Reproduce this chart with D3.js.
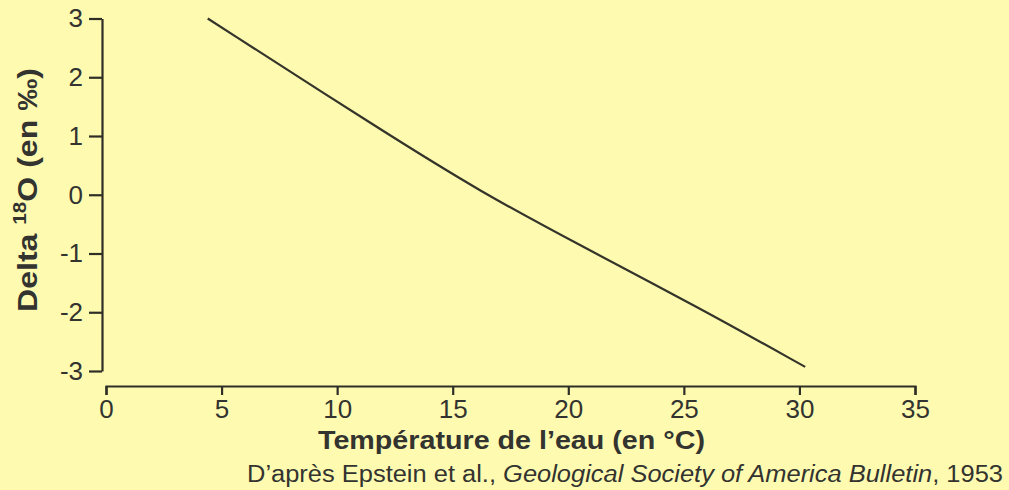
<!DOCTYPE html>
<html><head><meta charset="utf-8">
<script src="https://cdn.jsdelivr.net/npm/d3@7"></script>
<style>
html,body{margin:0;padding:0;background:#fefbb1;}
svg{display:block;}
text{font-family:"Liberation Sans",Arial,Helvetica,sans-serif;fill:#333330;}
</style></head><body>
<svg id="chart" width="1009" height="490"></svg>
<script>
// Data
const temperatures = [4.4, 11.9, 16.2, 20.5, 25.7, 30.25];
const deltas       = [3.0, 1.1, 0.05, -0.86, -1.93, -2.93];
const xTicks = [0, 5, 10, 15, 20, 25, 30, 35];
const yTicks = [-3, -2, -1, 0, 1, 2, 3];
const xLabel = "Température de l’eau (en °C)";
const yLabelParts = ["Delta ", "18", "O (en ‰)"];
const sourceParts = ["D’après Epstein et al., ", "Geological Society of America Bulletin", ", 1953"];

const svg = d3.select("#chart");
const ink = "#2e2e26";

const x = d3.scaleLinear().domain([0, 35]).range([106, 915]);
const y = d3.scaleLinear().domain([-3, 3]).range([371, 18.5]);

// Y axis
const yAxis = svg.append("g").attr("transform", "translate(102,0)")
  .call(d3.axisLeft(y).tickValues(yTicks).tickSize(13).tickSizeOuter(0).tickPadding(6)
        .tickFormat(d => String(d)));
yAxis.select(".domain").attr("stroke", ink).attr("stroke-width", 2.2);
yAxis.selectAll(".tick line").attr("stroke", ink).attr("stroke-width", 2.2);
yAxis.selectAll(".tick text").attr("font-size", 26).attr("fill", "#333330")
  .attr("font-family", "Liberation Sans, Arial, sans-serif");

// X axis
const xAxis = svg.append("g").attr("transform", "translate(0,386)")
  .call(d3.axisBottom(x).tickValues(xTicks).tickSize(9).tickSizeOuter(9).tickPadding(5)
        .tickFormat(d => String(d)));
xAxis.select(".domain").attr("stroke", ink).attr("stroke-width", 2.2);
xAxis.selectAll(".tick line").attr("stroke", ink).attr("stroke-width", 2.2);
xAxis.selectAll(".tick text").attr("font-size", 26).attr("fill", "#333330")
  .attr("font-family", "Liberation Sans, Arial, sans-serif");

// Curve
const pts = temperatures.map((t, i) => [t, deltas[i]]);
svg.append("path").datum(pts)
  .attr("fill", "none").attr("stroke", "#34342a").attr("stroke-width", 2.2)
  .attr("d", d3.line().x(d => x(d[0])).y(d => y(d[1])).curve(d3.curveBasis));

// X label
svg.append("text").attr("x", 318).attr("y", 449)
  .attr("font-size", 26).attr("font-weight", "bold")
  .attr("textLength", 387).attr("lengthAdjust", "spacingAndGlyphs")
  .text(xLabel);

// Y label
const yl = svg.append("text").attr("transform", "translate(37,312) rotate(-90)")
  .attr("font-size", 28).attr("font-weight", "bold")
  .attr("textLength", 244).attr("lengthAdjust", "spacingAndGlyphs");
yl.append("tspan").text(yLabelParts[0]);
yl.append("tspan").attr("font-size", 18).attr("dy", -11).text(yLabelParts[1]);
yl.append("tspan").attr("dy", 11).text(yLabelParts[2]);

// Source
const src = svg.append("text").attr("x", 247).attr("y", 482)
  .attr("font-size", 23)
  .attr("textLength", 756).attr("lengthAdjust", "spacingAndGlyphs");
src.append("tspan").text(sourceParts[0]);
src.append("tspan").attr("font-style", "italic").text(sourceParts[1]);
src.append("tspan").text(sourceParts[2]);
</script>
</body></html>
